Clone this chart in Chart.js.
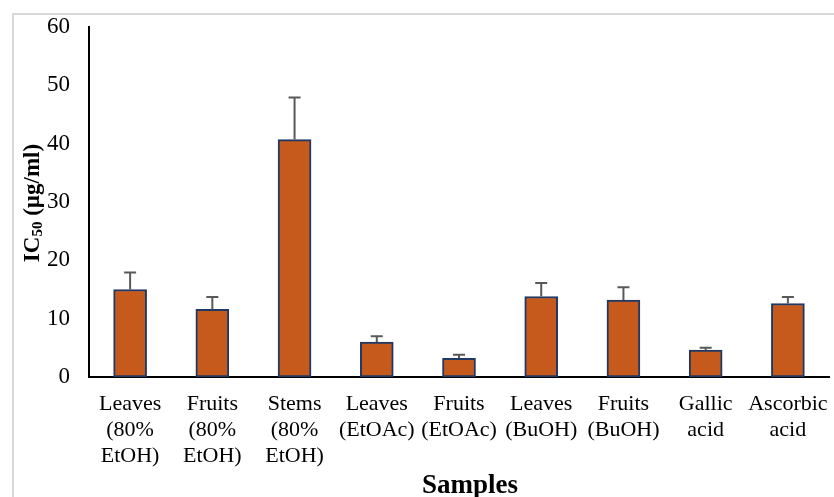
<!DOCTYPE html>
<html lang="en">
<head>
    <meta charset="UTF-8">
    <title>IC50 of samples</title>
    <script src="https://cdn.jsdelivr.net/npm/chart.js"></script>
    <style>
        body { margin: 0; padding: 0; background: white; }
        .chart-container { width: 834px; height: 497px; position: relative; }
    </style>
</head>
<body>
    <div class="chart-container">
        <canvas id="icChart"></canvas>
    </div>

    <script>
        const categories = [
            ['Leaves', '(80%', 'EtOH)'],
            ['Fruits', '(80%', 'EtOH)'],
            ['Stems', '(80%', 'EtOH)'],
            ['Leaves', '(EtOAc)'],
            ['Fruits', '(EtOAc)'],
            ['Leaves', '(BuOH)'],
            ['Fruits', '(BuOH)'],
            ['Gallic', 'acid'],
            ['Ascorbic', 'acid']
        ];
        const ic50Values = [15.0, 11.6, 40.7, 6.0, 3.2, 13.8, 13.2, 4.6, 12.6];
        const ic50Errors = [2.9, 2.1, 7.2, 1.0, 0.6, 2.3, 2.2, 0.4, 1.1];
        const yTicks = [0, 10, 20, 30, 40, 50, 60];

        const serif = "'Liberation Serif', 'Times New Roman', serif";

        // frame, error bars and axis titles (the y title needs a subscript)
        const extras = {
            id: 'extras',
            beforeDraw(chart) {
                const c = chart.ctx;
                c.save();
                c.fillStyle = 'white';
                c.fillRect(0, 0, chart.width, chart.height);
                c.strokeStyle = '#d9d9d9';
                c.lineWidth = 2;
                c.strokeRect(13, 14, chart.width + 10, chart.height + 10);
                c.restore();
            },
            afterDatasetsDraw(chart) {
                const c = chart.ctx;
                const x = chart.scales.x, y = chart.scales.y;
                c.save();
                c.strokeStyle = '#595959';
                c.lineWidth = 2;
                ic50Values.forEach((v, i) => {
                    const px = x.getPixelForValue(i);
                    const top = y.getPixelForValue(v + ic50Errors[i]);
                    const base = y.getPixelForValue(v);
                    c.beginPath();
                    c.moveTo(px, base);
                    c.lineTo(px, top);
                    c.moveTo(px - 6, top);
                    c.lineTo(px + 6, top);
                    c.stroke();
                });
                c.restore();

                c.save();
                c.fillStyle = 'black';
                c.font = 'bold 27px ' + serif;
                c.textAlign = 'center';
                c.textBaseline = 'middle';
                c.fillText('Samples', 470, 486);

                c.translate(33, 203);
                c.rotate(-Math.PI / 2);
                c.textBaseline = 'middle';
                c.textAlign = 'left';
                const p1 = 'IC', p2 = '50', p3 = ' (µg/ml)';
                c.font = 'bold 23px ' + serif;
                const w1 = c.measureText(p1).width, w3 = c.measureText(p3).width;
                c.font = 'bold 15px ' + serif;
                const w2 = c.measureText(p2).width;
                let sx = -(w1 + w2 + w3) / 2;
                c.font = 'bold 23px ' + serif;
                c.fillText(p1, sx, 0);
                c.font = 'bold 15px ' + serif;
                c.fillText(p2, sx + w1, 5);
                c.font = 'bold 23px ' + serif;
                c.fillText(p3, sx + w1 + w2, 0);
                c.restore();
            }
        };

        const ctx = document.getElementById('icChart').getContext('2d');
        const icChart = new Chart(ctx, {
            type: 'bar',
            data: {
                labels: categories,
                datasets: [{
                    data: ic50Values,
                    backgroundColor: '#c55a1c',
                    borderColor: '#1f3864',
                    borderWidth: 2,
                    borderSkipped: false,
                    barThickness: 33
                }]
            },
            options: {
                responsive: true,
                maintainAspectRatio: false,
                animation: false,
                layout: { padding: { left: 0, top: 27, right: 5, bottom: 0 } },
                plugins: {
                    legend: { display: false },
                    tooltip: { enabled: false }
                },
                scales: {
                    x: {
                        grid: { display: false, drawTicks: false },
                        border: { color: 'black', width: 2 },
                        ticks: {
                            color: 'black',
                            padding: 14,
                            maxRotation: 0,
                            autoSkip: false,
                            font: { family: serif, size: 22, lineHeight: 1.18 }
                        },
                        afterFit(scale) {
                            scale.height = 120;
                            scale.paddingLeft = 0;
                            scale.paddingRight = 0;
                        }
                    },
                    y: {
                        min: 0,
                        max: 60,
                        afterBuildTicks(scale) {
                            scale.ticks = yTicks.map(v => ({ value: v }));
                        },
                        grid: { display: false, drawTicks: false },
                        border: { color: 'black', width: 2 },
                        ticks: {
                            color: 'black',
                            padding: 19,
                            font: { family: serif, size: 23 }
                        },
                        afterFit(scale) {
                            scale.width = 89;
                            scale.paddingTop = 0;
                            scale.paddingBottom = 0;
                        }
                    }
                }
            },
            plugins: [extras]
        });
    </script>
</body>
</html>
